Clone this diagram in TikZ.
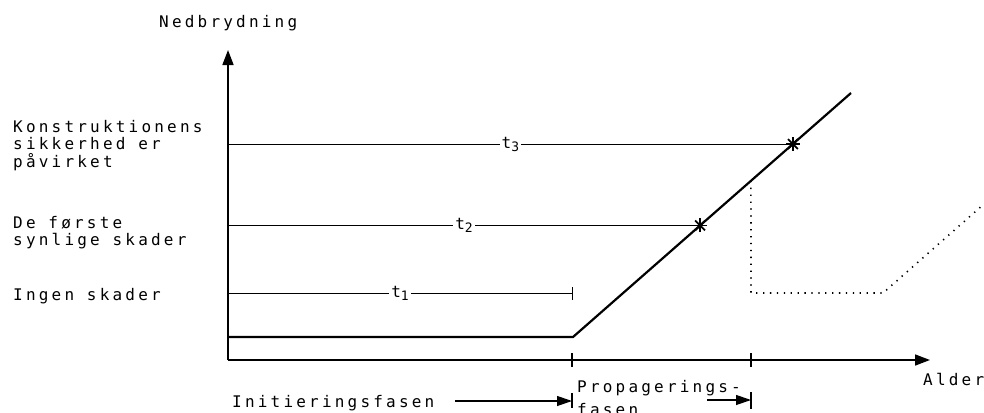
\documentclass[tikz,border=0pt]{standalone}
\usepackage{fontspec}
\setmainfont{DejaVu Sans Mono}[LetterSpace=20]
\usetikzlibrary{arrows.meta,calc}

\begin{document}
\begin{tikzpicture}[x=1pt,y=-1pt,
  lbl/.style={anchor=base west, inner sep=0pt, font=\fontsize{16}{19}\selectfont},
  tlabel/.style={fill=white, inner sep=2pt, font=\fontsize{16}{19}\selectfont},
  axis/.style={line width=1.6pt, -{Triangle[length=15pt,width=11pt]}},
  curve/.style={line width=2.2pt, line join=round},
  timeline/.style={line width=0.9pt},
  phase/.style={line width=1.2pt, -{Triangle[length=15pt,width=10pt]}},
  barline/.style={line width=1.2pt},
  dotline/.style={line width=1.6pt, dash pattern=on 1.3pt off 5.6pt},
  tick/.style={line width=1.2pt}
]
\useasboundingbox (0,0) rectangle (984,412);

% axes
\coordinate (O) at (228,360);
\coordinate (ytip) at (228,50);
\coordinate (xtip) at (930,360);
\draw[axis] (O) -- (ytip);
\draw[axis] (O) -- (xtip);
\node[lbl] (ylab) at (159,28) {Nedbrydning};
\node[lbl] (xlab) at (923,385) {Alder};

% phase boundaries on the time axis
\coordinate (p1) at (572,360);
\coordinate (p2) at (751,360);
\draw[tick] ($(p1)+(0,-7)$) -- ($(p1)+(0,7)$);
\draw[tick] ($(p2)+(0,-7)$) -- ($(p2)+(0,7)$);

% degradation curve
\coordinate (k0) at (228,337);
\coordinate (k1) at (573,337);
\coordinate (k2) at (851,93);
\draw[curve] (k0) -- (k1) -- (k2);

% events on the curve
\coordinate (s2) at ($(k1)!0.457!(k2)$);
\coordinate (s3) at ($(k1)!0.791!(k2)$);
\foreach \s in {s2,s3}{
  \foreach \a in {0,45,90,135}
    \draw[line width=1.7pt] (\s) +(\a:7) -- +(\a+180:7);
}

% time spans
\draw[timeline] (ytip |- s3) -- node[tlabel] {t\raisebox{-3pt}{\fontsize{13}{13}\selectfont 3}} (s3);
\draw[timeline] (ytip |- s2) -- node[tlabel] {t\raisebox{-3pt}{\fontsize{13}{13}\selectfont 2}} (s2);
\coordinate (t1a) at (228,293);
\coordinate (t1b) at (572,293);
\draw[timeline] (t1a) -- node[tlabel] {t\raisebox{-3pt}{\fontsize{13}{13}\selectfont 1}} (t1b);
\draw[timeline] ($(t1b)+(0,-6)$) -- ($(t1b)+(0,7)$);

% delayed curve (dotted)
\coordinate (d0) at ($(k1)!0.640!(k2)$);
\coordinate (d1) at (751,293);
\coordinate (d2) at (883,293);
\coordinate (d3) at (984,204);
\draw[dotline] (d0) -- (d1) -- (d2) -- (d3);

% damage levels
\node[lbl] (k1a) at (13,132) {Konstruktionens};
\node[lbl] (k1b) at (13,149.5) {sikkerhed er};
\node[lbl] (k1c) at (13,167) {påvirket};
\node[lbl] (k2a) at (13,228) {De første};
\node[lbl] (k2b) at (13,245.5) {synlige skader};
\node[lbl] (k3a) at (13,300) {Ingen skader};

% phases
\node[lbl] (ini) at (232,407) {Initieringsfasen};
\coordinate (a1s) at (455,401);
\coordinate (a1e) at (572,401);
\draw[phase] (a1s) -- (a1e);
\draw[barline] ($(a1e)+(0,-8)$) -- ($(a1e)+(0,7)$);
\node[lbl] (prop1) at (577,392) {Propagerings-};
\node[lbl] (prop2) at (577,415) {fasen};
\coordinate (a2s) at (707,400);
\coordinate (a2e) at (751,400);
\draw[phase] (a2s) -- (a2e);
\draw[barline] ($(a2e)+(0,-8)$) -- ($(a2e)+(0,9)$);
\end{tikzpicture}
\end{document}
